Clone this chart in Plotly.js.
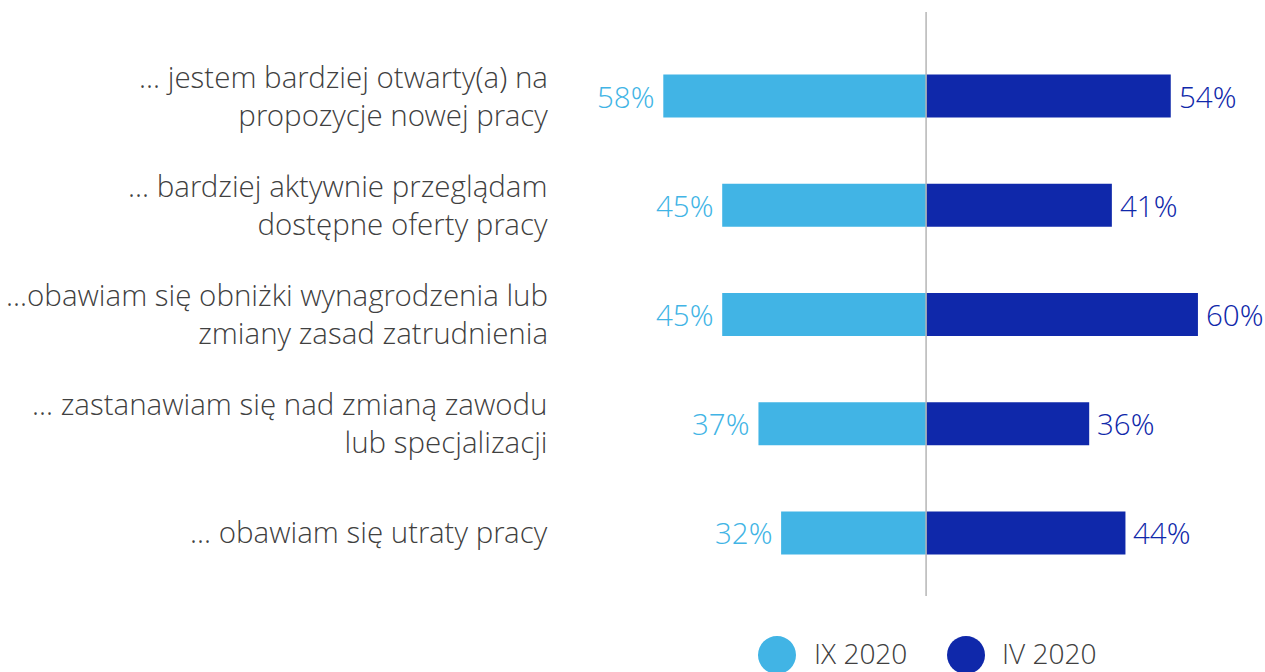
<!DOCTYPE html>
<html>
<head>
<meta charset="utf-8">
<script src="https://cdn.plot.ly/plotly-3.0.1.min.js"></script>
<style>html,body{margin:0;padding:0;background:#fff;}#chart{width:1265px;height:672px;}</style>
</head>
<body>
<div id="chart"></div>
<script>
var categories = [
  "... jestem bardziej otwarty(a) na<br>propozycje nowej pracy",
  "... bardziej aktywnie przeglądam<br>dostępne oferty pracy",
  "...obawiam się obniżki wynagrodzenia lub<br>zmiany zasad zatrudnienia",
  "... zastanawiam się nad zmianą zawodu<br>lub specjalizacji",
  "... obawiam się utraty pracy"
];
var seriesNames = ["IX 2020", "IV 2020"];
var valuesIX = [58, 45, 45, 37, 32];
var valuesIV = [54, 41, 60, 36, 44];

var colIX = "#41B4E5";
var colIV = "#0F28AA";
var FONT = "Open Sans Light, Open Sans, sans-serif";

var traces = [
  {type: "bar", orientation: "h", name: seriesNames[0], y: categories,
   x: valuesIX.map(function(v){return -v;}), marker: {color: colIX}, hoverinfo: "skip"},
  {type: "bar", orientation: "h", name: seriesNames[1], y: categories,
   x: valuesIV, marker: {color: colIV}, hoverinfo: "skip"}
];

var annotations = [];
categories.forEach(function(c, i){
  annotations.push({xref: "paper", yref: "y", x: 0, y: c, xanchor: "right", yanchor: "middle",
    xshift: -10, yshift: 1, align: "right", showarrow: false, text: c,
    font: {family: FONT, size: 29.5, color: "#404040", weight: 300}});
  annotations.push({xref: "x", yref: "y", x: -valuesIX[i], y: c, xanchor: "right", yanchor: "middle",
    xshift: -6, showarrow: false, text: valuesIX[i] + "%",
    font: {family: FONT, size: 29.5, color: colIX, weight: 300}});
  annotations.push({xref: "x", yref: "y", x: valuesIV[i], y: c, xanchor: "left", yanchor: "middle",
    xshift: 6, showarrow: false, text: valuesIV[i] + "%",
    font: {family: FONT, size: 29.5, color: colIV, weight: 300}});
});

// manual legend
var legendY = -0.098;
var legendItems = [
  {cx: 0.3078, tx: 0.3574, color: colIX, label: seriesNames[0]},
  {cx: 0.5759, tx: 0.6241, color: colIV, label: seriesNames[1]}
];
var shapes = [
  {type: "line", xref: "x", yref: "paper", x0: 0, x1: 0, y0: 0, y1: 1,
   line: {color: "#b5b5b5", width: 1.5}, layer: "above"}
];
legendItems.forEach(function(it){
  shapes.push({type: "circle", xref: "paper", yref: "paper", xsizemode: "pixel", ysizemode: "pixel",
    xanchor: it.cx, yanchor: -0.101, x0: -19, x1: 19, y0: -19, y1: 19,
    fillcolor: it.color, line: {width: 0}});
  annotations.push({xref: "paper", yref: "paper", x: it.tx, y: legendY, xanchor: "left", yanchor: "middle",
    showarrow: false, text: it.label, font: {family: FONT, size: 28, color: "#404040", weight: 300}});
});

var layout = {
  width: 1265, height: 672,
  margin: {l: 560, r: 0, t: 12, b: 76},
  paper_bgcolor: "#ffffff", plot_bgcolor: "#ffffff",
  barmode: "relative", bargap: 0.606,
  showlegend: false,
  xaxis: {range: [-80.8, 74.8], showgrid: false, zeroline: false, showticklabels: false, ticks: "", fixedrange: true},
  yaxis: {type: "category", categoryorder: "array", categoryarray: categories,
          range: [4.577, -0.769], showgrid: false, zeroline: false, showticklabels: false, ticks: "", fixedrange: true},
  shapes: shapes,
  annotations: annotations,
  font: {family: FONT}
};

Plotly.newPlot("chart", traces, layout, {displayModeBar: false, staticPlot: true});
</script>
</body>
</html>
